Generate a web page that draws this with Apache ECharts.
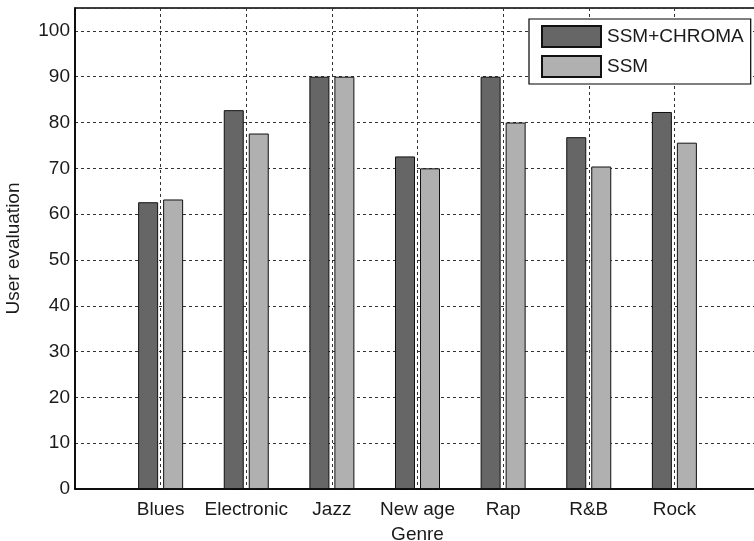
<!DOCTYPE html>
<html>
<head>
<meta charset="utf-8">
<script src="https://cdn.jsdelivr.net/npm/echarts@6/dist/echarts.min.js"></script>
<style>
  html, body { margin: 0; padding: 0; background: #fff; }
  #chart { width: 754px; height: 541px; }
</style>
</head>
<body>
<div id="chart"></div>
<script>
// genres, placed at x = 1..7
const genres = ['Blues', 'Electronic', 'Jazz', 'New age', 'Rap', 'R&B', 'Rock'];
const ssmChroma = [62.6, 82.7, 90, 72.6, 90, 76.8, 82.3];
const ssm = [63.2, 77.6, 90, 70.0, 80, 70.4, 75.6];
const yTicks = [0, 10, 20, 30, 40, 50, 60, 70, 80, 90, 100];

const font = 'Liberation Sans, Arial, Helvetica, sans-serif';
const textColor = '#1a1a1a';

const chart = echarts.init(document.getElementById('chart'));

// x is a value axis so the box can start one slot left of Blues
function toPoints(vals) {
    return vals.map(function(v, i) {
        return [i + 1, v];
    });
}

const gridLine = {
    show: true,
    lineStyle: { color: '#333', width: 1, type: [3, 3] }
};

const option = {
    animation: false,
    backgroundColor: '#fff',
    grid: {
        left: 75,
        top: 8,
        right: -6,
        bottom: 52,
        outerBoundsMode: 'none',
        containLabel: false,
        show: true,
        borderColor: '#000',
        borderWidth: 1.5,
        backgroundColor: 'transparent'
    },
    legend: {
        data: ['SSM+CHROMA', 'SSM'],
        orient: 'vertical',
        left: 529,
        top: 19,
        icon: 'rect',
        itemWidth: 59,
        itemHeight: 21,
        itemGap: 7,
        padding: [6, 7, 6, 12],
        backgroundColor: '#fff',
        borderColor: '#000',
        borderWidth: 1.2,
        textStyle: { fontFamily: font, fontSize: 19, color: textColor, padding: [0, 0, 0, 1] }
    },
    xAxis: {
        type: 'value',
        min: 0,
        max: 8,
        interval: 1,
        name: 'Genre',
        nameLocation: 'middle',
        nameGap: 36,
        nameTextStyle: { fontFamily: font, fontSize: 19, color: textColor },
        axisLine: { show: true, lineStyle: { color: '#000', width: 1.5 } },
        axisTick: { show: false },
        axisLabel: {
            margin: 11,
            fontFamily: font,
            fontSize: 19,
            color: textColor,
            formatter: function(v) {
                return genres[v - 1] || '';
            }
        },
        splitLine: gridLine
    },
    yAxis: {
        type: 'value',
        min: 0,
        max: 105,
        interval: 10,
        name: 'User evaluation',
        nameLocation: 'middle',
        nameGap: 52,
        nameTextStyle: { fontFamily: font, fontSize: 19, color: textColor },
        axisLine: { show: true, lineStyle: { color: '#000', width: 1.5 } },
        axisTick: { show: false },
        axisLabel: {
            margin: 5,
            fontFamily: font,
            fontSize: 19,
            color: textColor,
            formatter: function(v) {
                return yTicks.indexOf(v) >= 0 ? String(v) : '';
            }
        },
        splitLine: gridLine
    },
    series: [{
        name: 'SSM+CHROMA',
        type: 'bar',
        barWidth: 20,
        barGap: '25%',
        data: toPoints(ssmChroma),
        itemStyle: { color: '#666666', borderColor: '#111', borderWidth: 1 }
    }, {
        name: 'SSM',
        type: 'bar',
        barWidth: 20,
        barGap: '25%',
        data: toPoints(ssm),
        itemStyle: { color: '#b0b0b0', borderColor: '#111', borderWidth: 1 }
    }]
};

chart.setOption(option);
</script>
</body>
</html>
